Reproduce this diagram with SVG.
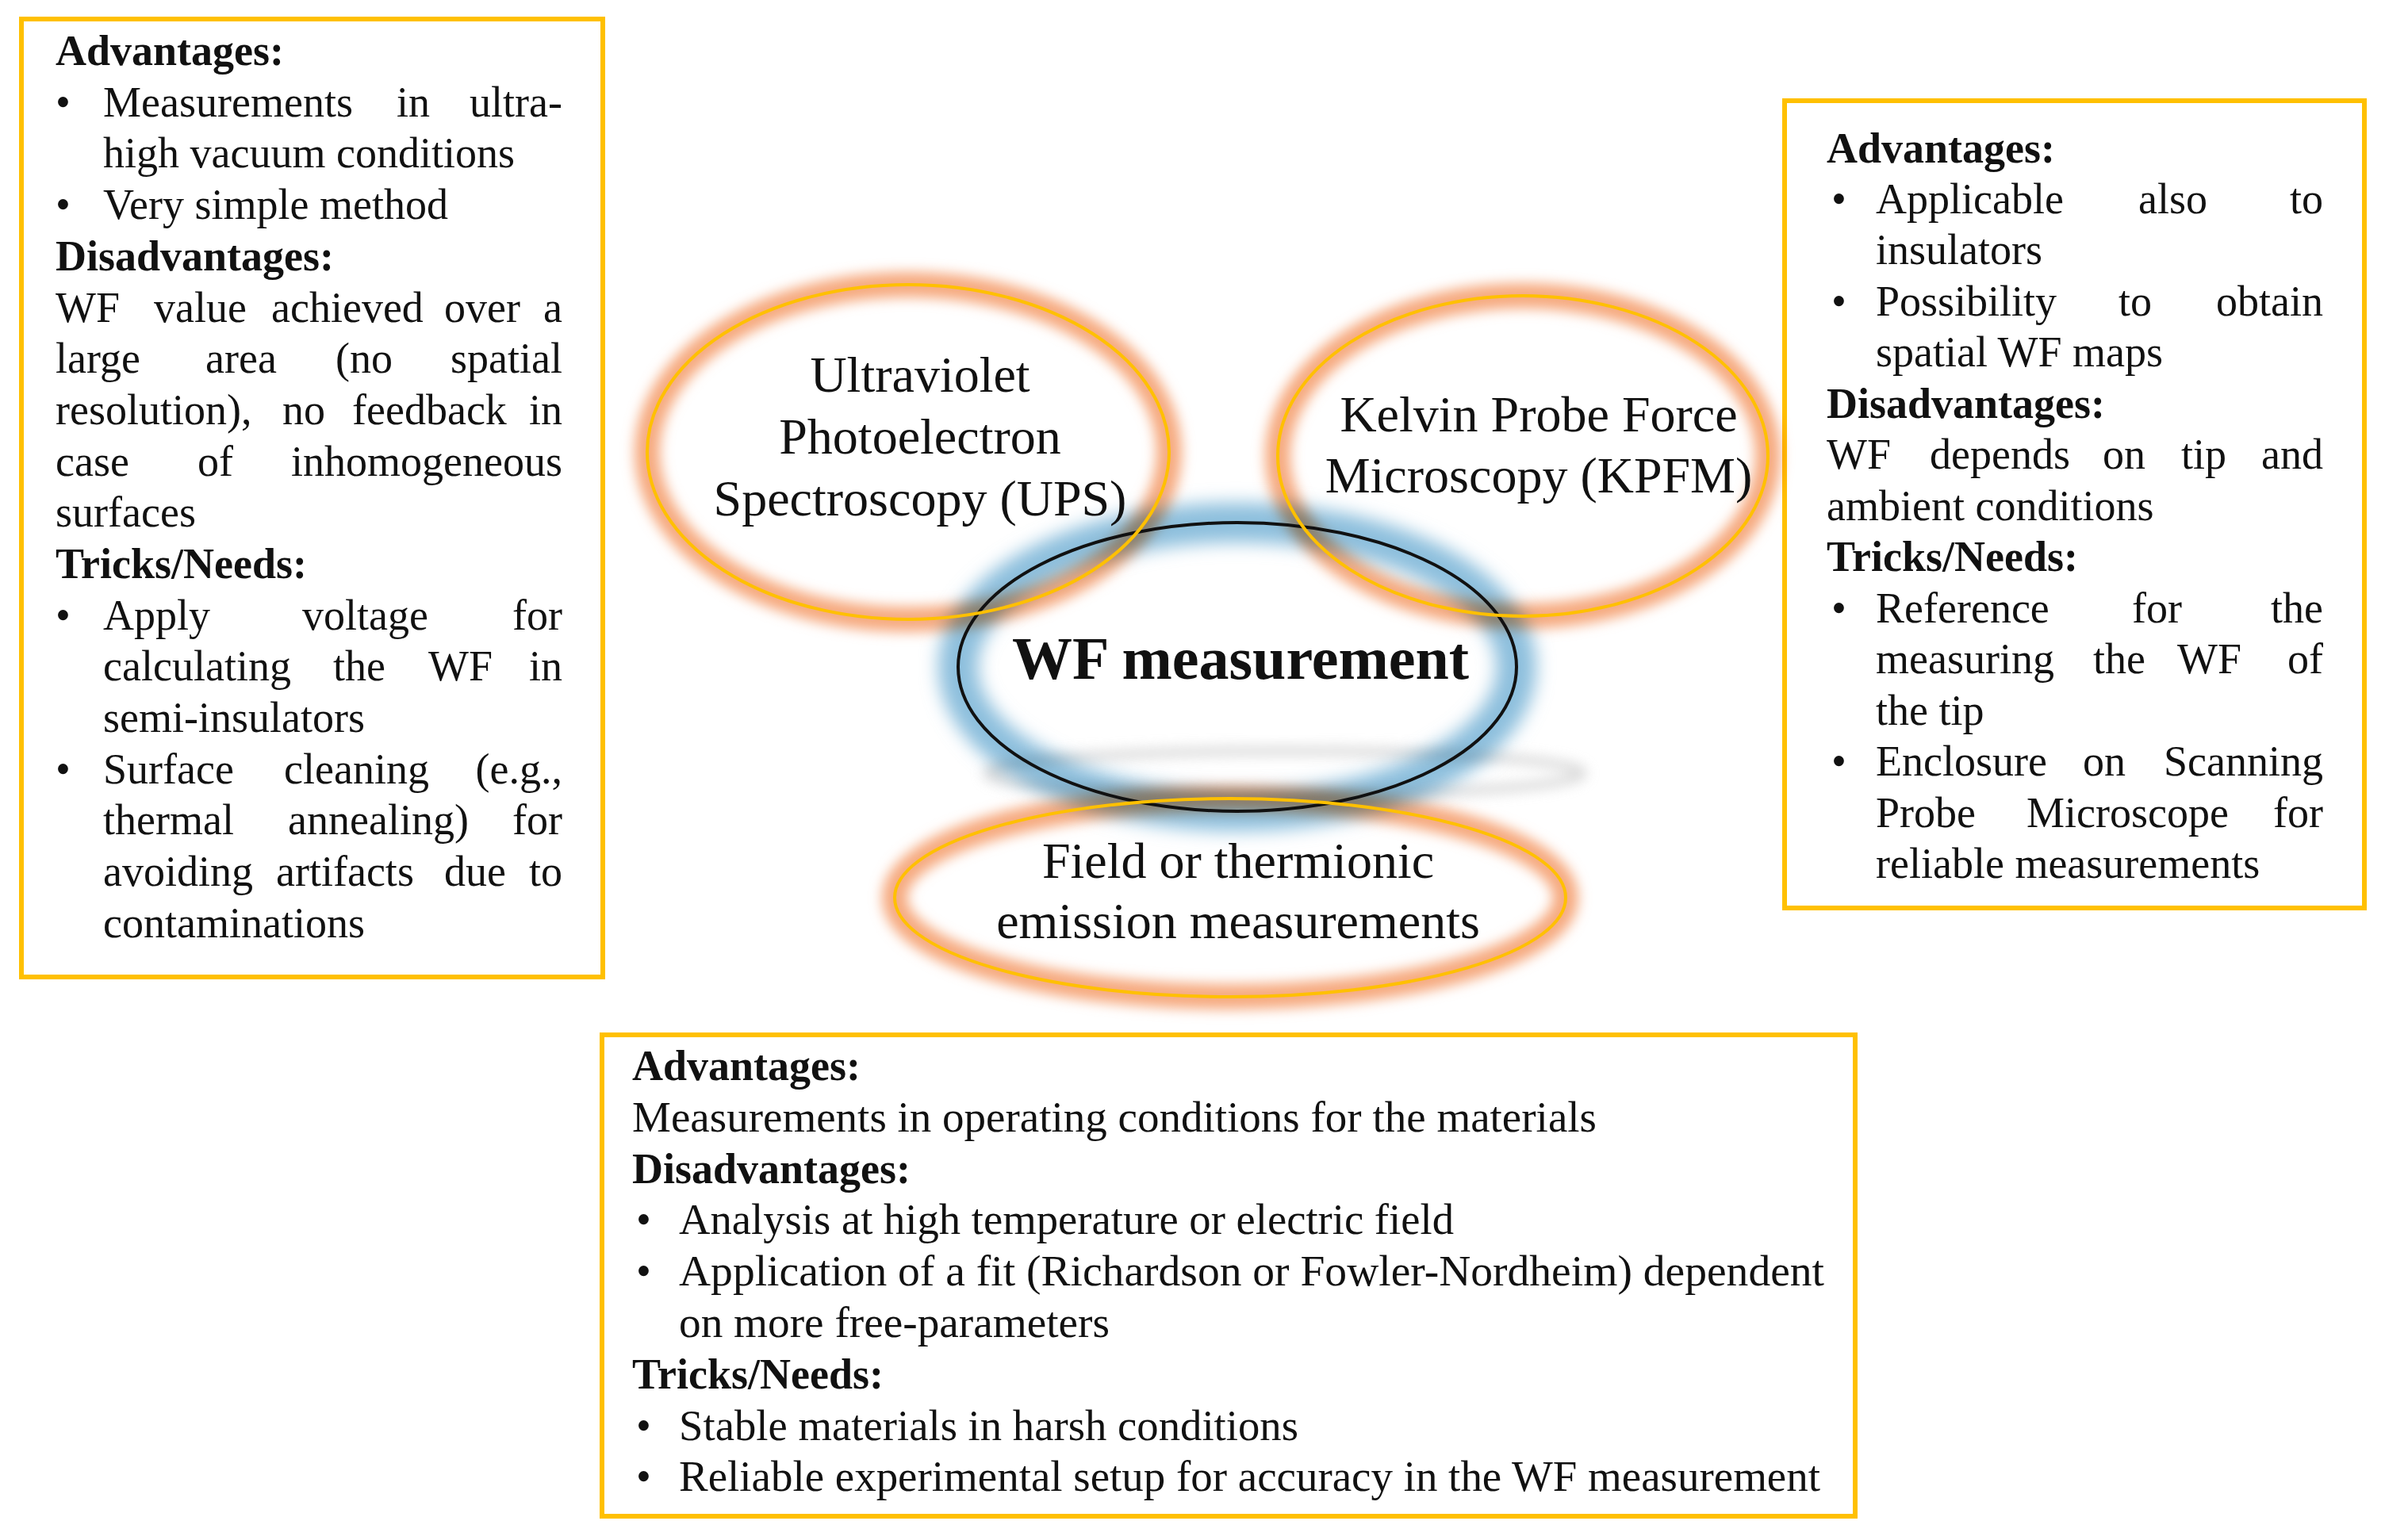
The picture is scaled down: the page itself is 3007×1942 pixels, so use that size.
<svg xmlns="http://www.w3.org/2000/svg" width="3007" height="1942" viewBox="0 0 3007 1942">
<style>
.box{fill:#fff;stroke:#FFC000;stroke-width:6}
.t{font-family:"Liberation Serif","Times New Roman",serif;font-size:54px;fill:#111}
.b{font-weight:bold}
.e{text-anchor:end}
.et{font-family:"Liberation Serif","Times New Roman",serif;font-size:64px;fill:#111;text-anchor:middle}
.wf{font-family:"Liberation Serif","Times New Roman",serif;font-size:76px;font-weight:bold;fill:#111;text-anchor:middle}
.og{fill:none;stroke:#F6AA80;stroke-width:32;filter:url(#blurO);mix-blend-mode:multiply}
.yl{fill:none;stroke:#FFC000;stroke-width:4}
</style>
<defs>
<filter id="blurO" x="-0.2" y="-0.3" width="1.4" height="1.6"><feGaussianBlur stdDeviation="8"/></filter>
<filter id="blurB" x="-0.2" y="-0.3" width="1.4" height="1.6"><feGaussianBlur stdDeviation="11"/></filter>
<filter id="blurG" x="-0.3" y="-2" width="1.6" height="5"><feGaussianBlur stdDeviation="8"/></filter>
</defs>
<rect width="3007" height="1942" fill="#fff"/>

<g id="left-box">
<rect class="box" x="27" y="24" width="733" height="1208"/>
<text class="t b" x="70" y="82">Advantages:</text>
<text class="t" y="147"><tspan x="70">•</tspan><tspan x="130">Measurements</tspan><tspan x="500">in</tspan><tspan x="709" text-anchor="end">ultra-</tspan></text>
<text class="t" x="130" y="211">high vacuum conditions</text>
<text class="t" y="276"><tspan x="70">•</tspan><tspan x="130">Very simple method</tspan></text>
<text class="t b" x="70" y="341">Disadvantages:</text>
<text class="t" y="406"><tspan x="70">WF</tspan><tspan x="194">value</tspan><tspan x="342">achieved</tspan><tspan x="560">over</tspan><tspan x="709" text-anchor="end">a</tspan></text>
<text class="t" y="470"><tspan x="70">large</tspan><tspan x="259">area</tspan><tspan x="423">(no</tspan><tspan x="709" text-anchor="end">spatial</tspan></text>
<text class="t" y="535"><tspan x="70">resolution),</tspan><tspan x="356">no</tspan><tspan x="444">feedback</tspan><tspan x="709" text-anchor="end">in</tspan></text>
<text class="t" y="600"><tspan x="70">case</tspan><tspan x="249">of</tspan><tspan x="709" text-anchor="end">inhomogeneous</tspan></text>
<text class="t" x="70" y="664">surfaces</text>
<text class="t b" x="70" y="729">Tricks/Needs:</text>
<text class="t" y="794"><tspan x="70">•</tspan><tspan x="130">Apply</tspan><tspan x="381">voltage</tspan><tspan x="709" text-anchor="end">for</tspan></text>
<text class="t" y="858"><tspan x="130">calculating</tspan><tspan x="420">the</tspan><tspan x="540">WF</tspan><tspan x="709" text-anchor="end">in</tspan></text>
<text class="t" x="130" y="923">semi-insulators</text>
<text class="t" y="988"><tspan x="70">•</tspan><tspan x="130">Surface</tspan><tspan x="358">cleaning</tspan><tspan x="709" text-anchor="end">(e.g.,</tspan></text>
<text class="t" y="1052"><tspan x="130">thermal</tspan><tspan x="363">annealing)</tspan><tspan x="709" text-anchor="end">for</tspan></text>
<text class="t" y="1117"><tspan x="130">avoiding</tspan><tspan x="348">artifacts</tspan><tspan x="560">due</tspan><tspan x="709" text-anchor="end">to</tspan></text>
<text class="t" x="130" y="1182">contaminations</text>
</g>

<g id="right-box">
<rect class="box" x="2250" y="127" width="731" height="1018"/>
<text class="t b" x="2303" y="205">Advantages:</text>
<text class="t" y="269"><tspan x="2309">•</tspan><tspan x="2365">Applicable</tspan><tspan x="2696">also</tspan><tspan x="2929" text-anchor="end">to</tspan></text>
<text class="t" x="2365" y="333">insulators</text>
<text class="t" y="398"><tspan x="2309">•</tspan><tspan x="2365">Possibility</tspan><tspan x="2671">to</tspan><tspan x="2929" text-anchor="end">obtain</tspan></text>
<text class="t" x="2365" y="462">spatial WF maps</text>
<text class="t b" x="2303" y="527">Disadvantages:</text>
<text class="t" y="591"><tspan x="2303">WF</tspan><tspan x="2433">depends</tspan><tspan x="2651">on</tspan><tspan x="2750">tip</tspan><tspan x="2929" text-anchor="end">and</tspan></text>
<text class="t" x="2303" y="656">ambient conditions</text>
<text class="t b" x="2303" y="720">Tricks/Needs:</text>
<text class="t" y="785"><tspan x="2309">•</tspan><tspan x="2365">Reference</tspan><tspan x="2688">for</tspan><tspan x="2929" text-anchor="end">the</tspan></text>
<text class="t" y="849"><tspan x="2365">measuring</tspan><tspan x="2639">the</tspan><tspan x="2745">WF</tspan><tspan x="2929" text-anchor="end">of</tspan></text>
<text class="t" x="2365" y="914">the tip</text>
<text class="t" y="978"><tspan x="2309">•</tspan><tspan x="2365">Enclosure</tspan><tspan x="2626">on</tspan><tspan x="2929" text-anchor="end">Scanning</tspan></text>
<text class="t" y="1043"><tspan x="2365">Probe</tspan><tspan x="2555">Microscope</tspan><tspan x="2929" text-anchor="end">for</tspan></text>
<text class="t" x="2365" y="1107">reliable measurements</text>
</g>

<g id="bottom-box">
<rect class="box" x="759" y="1305" width="1580" height="607"/>
<text class="t b" x="797" y="1362">Advantages:</text>
<text class="t" x="797" y="1427" textLength="1216" lengthAdjust="spacingAndGlyphs">Measurements in operating conditions for the materials</text>
<text class="t b" x="797" y="1492">Disadvantages:</text>
<text class="t" y="1556"><tspan x="802">•</tspan><tspan x="856" textLength="977" lengthAdjust="spacingAndGlyphs">Analysis at high temperature or electric field</tspan></text>
<text class="t" y="1621"><tspan x="802">•</tspan><tspan x="856" textLength="1444" lengthAdjust="spacingAndGlyphs">Application of  a fit (Richardson or Fowler-Nordheim) dependent</tspan></text>
<text class="t" x="856" y="1686" textLength="543" lengthAdjust="spacingAndGlyphs">on more free-parameters</text>
<text class="t b" x="797" y="1751">Tricks/Needs:</text>
<text class="t" y="1816"><tspan x="802">•</tspan><tspan x="856" textLength="781" lengthAdjust="spacingAndGlyphs">Stable materials in harsh conditions</tspan></text>
<text class="t" y="1880"><tspan x="802">•</tspan><tspan x="856" textLength="1439" lengthAdjust="spacingAndGlyphs">Reliable experimental setup for accuracy in the WF measurement</tspan></text>
</g>

<g id="shadow">
<ellipse cx="1620" cy="975" rx="375" ry="28" fill="none" stroke="#d2d2d2" stroke-width="12" opacity="0.8" filter="url(#blurG)"/>
</g>

<g id="wf-measurement">
<ellipse cx="1560" cy="841" rx="352" ry="182" fill="none" stroke="#8DBFDD" stroke-width="50" filter="url(#blurB)" style="mix-blend-mode:multiply"/>
</g>

<g id="ups">
<ellipse class="og" cx="1145" cy="570" rx="329" ry="211"/>
</g>
<g id="kpfm">
<ellipse class="og" cx="1920" cy="575" rx="309" ry="202"/>
</g>
<g id="field-emission">
<ellipse class="og" cx="1551" cy="1132" rx="423" ry="125"/>
</g>

<g id="outlines">
<ellipse cx="1560" cy="841" rx="352" ry="182" fill="none" stroke="#111" stroke-width="4"/>
<ellipse class="yl" cx="1145" cy="570" rx="329" ry="211"/>
<ellipse class="yl" cx="1920" cy="575" rx="309" ry="202"/>
<ellipse class="yl" cx="1551" cy="1132" rx="423" ry="125"/>
</g>

<g id="labels">
<text class="et" x="1160" y="494">Ultraviolet</text>
<text class="et" x="1160" y="572">Photoelectron</text>
<text class="et" x="1160" y="650">Spectroscopy (UPS)</text>
<text class="et" x="1940" y="544">Kelvin Probe Force</text>
<text class="et" x="1940" y="621">Microscopy (KPFM)</text>
<text class="wf" x="1564" y="856">WF measurement</text>
<text class="et" x="1561" y="1107">Field or thermionic</text>
<text class="et" x="1561" y="1183">emission measurements</text>
</g>

<g id="connectors"/>
</svg>
